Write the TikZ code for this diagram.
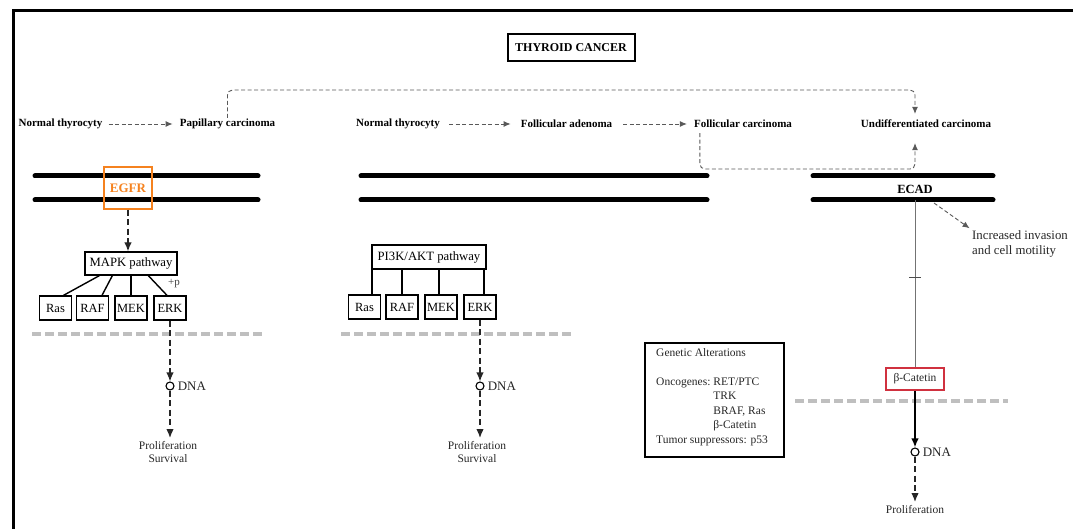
\documentclass[tikz,border=0pt]{standalone}
\usepackage{fontspec}
\setmainfont{Liberation Serif}
\usetikzlibrary{arrows.meta,calc}
\definecolor{egfrc}{HTML}{F5821F}
\definecolor{catred}{HTML}{D0313F}
\begin{document}
\begin{tikzpicture}[x=1pt,y=-1pt,
  lbl/.style={font=\fontsize{11}{13}\selectfont\bfseries, inner sep=1pt},
  txt/.style={font=\fontsize{11.5}{13}\selectfont, text=black!85},
  darr/.style={draw=black!85, line width=1.3pt, dash pattern=on 6pt off 3.5pt, -{Latex[length=9pt,width=7.5pt]}},
  tarr/.style={draw=black!65, line width=0.9pt, dash pattern=on 4pt off 2.5pt, -{Latex[length=7pt,width=6pt]}},
  membrane/.style={line width=5pt, line cap=round},
  gdash/.style={draw=black!25, line width=4pt, dash pattern=on 9pt off 4pt},
  sbox/.style={draw, line width=1.3pt, minimum width=32pt, minimum height=24pt, inner sep=0pt, font=\fontsize{12.5}{14}\selectfont},
  pbox/.style={draw, line width=1.3pt, minimum height=23pt, inner sep=2pt, font=\fontsize{12.7}{14}\selectfont},
  link/.style={line width=1.4pt},
  dnac/.style={circle, draw, line width=1.1pt, minimum size=8pt, inner sep=0pt, fill=white},
  dnal/.style={anchor=west, inner sep=1pt, font=\fontsize{13}{15}\selectfont, text=black!85},
  gline/.style={draw=black!55, line width=1pt}
]
\useasboundingbox (0,0) rectangle (1073,529);
% frame
\draw[line width=3pt] (13,529) -- (13,11) -- (1073,11);

% title
\node[draw, line width=2pt, minimum width=127pt, minimum height=27pt, font=\fontsize{12}{14}\selectfont\bfseries] (title) at (571,47.5) {THYROID CANCER};

% top row
\node[lbl] (nt1) at (60.5,124) {Normal thyrocyty};
\node[lbl] (pc) at (227.5,124) {Papillary carcinoma};
\node[lbl] (nt2) at (398,124) {Normal thyrocyty};
\node[lbl] (fa) at (566.5,124) {Follicular adenoma};
\node[lbl] (fc) at (743,124) {Follicular carcinoma};
\node[lbl] (ud) at (926,124) {Undifferentiated carcinoma};

\draw[tarr, shorten <=5pt, shorten >=6pt] (nt1.east) -- (pc.west);
\draw[tarr, shorten <=8pt, shorten >=9pt] (nt2.east) -- (fa.west);
\draw[tarr, shorten <=10pt, shorten >=6pt] (fa.east) -- (fc.west);

\coordinate (c1) at (915,90);
\draw[tarr, rounded corners=5pt, shorten >=5pt] (pc.north) |- (c1) -- (c1 |- ud.north);
\coordinate (f0) at ($(fc.south west)+(7,0)$);
\coordinate (c2) at (915,169);
\draw[tarr, rounded corners=5pt, shorten <=4pt, shorten >=14pt] (f0) |- (c2) -- (c2 |- ud.south);

% membranes
\draw[membrane] (35,176) -- (258,176);
\draw[membrane] (35,200) -- (258,200);
\draw[membrane] (361,176) -- (707,176);
\draw[membrane] (361,200) -- (707,200);
\draw[membrane] (813,176) -- (993,176);
\draw[membrane] (813,200) -- (993,200);

% gray dashed (nuclear) lines
\draw[gdash] (32,334) -- (264,334);
\draw[gdash] (341,334) -- (572,334);
\draw[gdash] (795,401) -- (1008,401);

% left: MAPK
\node[draw=egfrc, line width=1.5pt, minimum width=48pt, minimum height=42pt, text=egfrc, font=\fontsize{13}{15}\selectfont\bfseries] (egfr) at (128,188) {EGFR};
\node[pbox, minimum width=92pt] (mapk) at (131,263.5) {MAPK pathway};
\draw[darr] (egfr.south) -- (egfr.south |- mapk.north);
\node[sbox] (ras1) at (55.5,308) {Ras};
\node[sbox] (raf1) at (92.5,308) {RAF};
\node[sbox] (mek1) at (131,308) {MEK};
\node[sbox] (erk1) at (170,308) {ERK};
\draw[link] ($(mapk.south west)+(15,0)$) -- ($(ras1.north)+(8,0)$);
\draw[link] ($(mapk.south west)+(28,0)$) -- ($(raf1.north)+(9.5,0)$);
\draw[link] (mek1.north) -- (mek1.north |- mapk.south);
\draw[link] ($(mapk.south west)+(64,0)$) -- ($(erk1.north)+(-3,0)$);
\node[font=\fontsize{11}{12}\selectfont, text=black!75, inner sep=0pt] (plus1) at (174,284) {+p};
\node[dnac] (dna1) at (170,386) {};
\node[dnal] (dl1) at ($(dna1.east)+(2,0)$) {DNA};
\node[txt, align=center, anchor=north, inner sep=0pt] (pr1) at (168,441) {Proliferation\\Survival};
\draw[darr] (erk1.south) -- (erk1.south |- dna1.north);
\draw[darr, shorten >=3pt] (dna1.south) -- (dna1.south |- pr1.north);

% middle: PI3K/AKT
\node[pbox, minimum width=114pt, minimum height=24pt] (pi) at (429,257) {PI3K/AKT pathway};
\node[sbox] (ras2) at (364.5,307) {Ras};
\node[sbox] (raf2) at (402,307) {RAF};
\node[sbox] (mek2) at (441,307) {MEK};
\node[sbox] (erk2) at (480,307) {ERK};
\coordinate (r2t) at ($(ras2.north)+(7.5,0)$);
\coordinate (m2t) at ($(mek2.north)+(-2,0)$);
\coordinate (e2t) at ($(erk2.north)+(4,0)$);
\draw[link] (r2t) -- (r2t |- pi.south);
\draw[link] (raf2.north) -- (raf2.north |- pi.south);
\draw[link] (m2t) -- (m2t |- pi.south);
\draw[link] (e2t) -- (e2t |- pi.south);
\node[dnac] (dna2) at (480,386) {};
\node[dnal] (dl2) at ($(dna2.east)+(2,0)$) {DNA};
\node[txt, align=center, anchor=north, inner sep=0pt] (pr2) at (477,441) {Proliferation\\Survival};
\draw[darr] (erk2.south) -- (erk2.south |- dna2.north);
\draw[darr, shorten >=3pt] (dna2.south) -- (dna2.south |- pr2.north);

% genetic alterations box
\node[draw, line width=2pt, minimum width=139pt, minimum height=114pt] (ga) at (714.5,400) {};
\node[anchor=north west, inner sep=0pt, font=\fontsize{11.5}{14.5}\selectfont, text=black!85] (gatext) at (656,346) {%
\begin{tabular}{@{}l@{\ }l@{}}
\multicolumn{2}{@{}l@{}}{Genetic Alterations}\\
\\
Oncogenes: & RET/PTC\\
 & TRK\\
 & BRAF, Ras\\
 & β-Catetin\\
\multicolumn{2}{@{}l@{}}{Tumor suppressors: p53}
\end{tabular}};

% right: ECAD / beta-catenin
\node[font=\fontsize{12.5}{14}\selectfont\bfseries, inner sep=0pt] (ecad) at (915,189) {ECAD};
\coordinate (ecb) at (915,200);
\node[draw=catred, line width=1.5pt, minimum width=58pt, minimum height=22pt, inner sep=0pt, font=\fontsize{11.5}{13}\selectfont, text=black!85] (bc) at (915,379) {β-Catetin};
\draw[gline] (ecb) -- coordinate[pos=0.464] (tk) (bc.north);
\draw[line width=1pt, black!70] ($(tk)+(-6,0)$) -- ($(tk)+(6,0)$);
\coordinate (ecr) at (934,203);
\node[anchor=north west, align=left, inner sep=0pt, font=\fontsize{12.8}{15}\selectfont, text=black!85] (inv) at (972,230) {Increased invasion\\and cell motility};
\draw[tarr, shorten >=3pt] (ecr) -- (inv.north west);
\node[dnac] (dna3) at (915,452) {};
\node[dnal] (dl3) at ($(dna3.east)+(2,0)$) {DNA};
\node[txt, anchor=north, inner sep=0pt] (pr3) at (915,505) {Proliferation};
\draw[line width=1.6pt, -{Latex[length=9pt,width=7.5pt]}] (bc.south) -- (dna3.north);
\draw[darr, shorten >=3pt] (dna3.south) -- (pr3.north);
\end{tikzpicture}
\end{document}
